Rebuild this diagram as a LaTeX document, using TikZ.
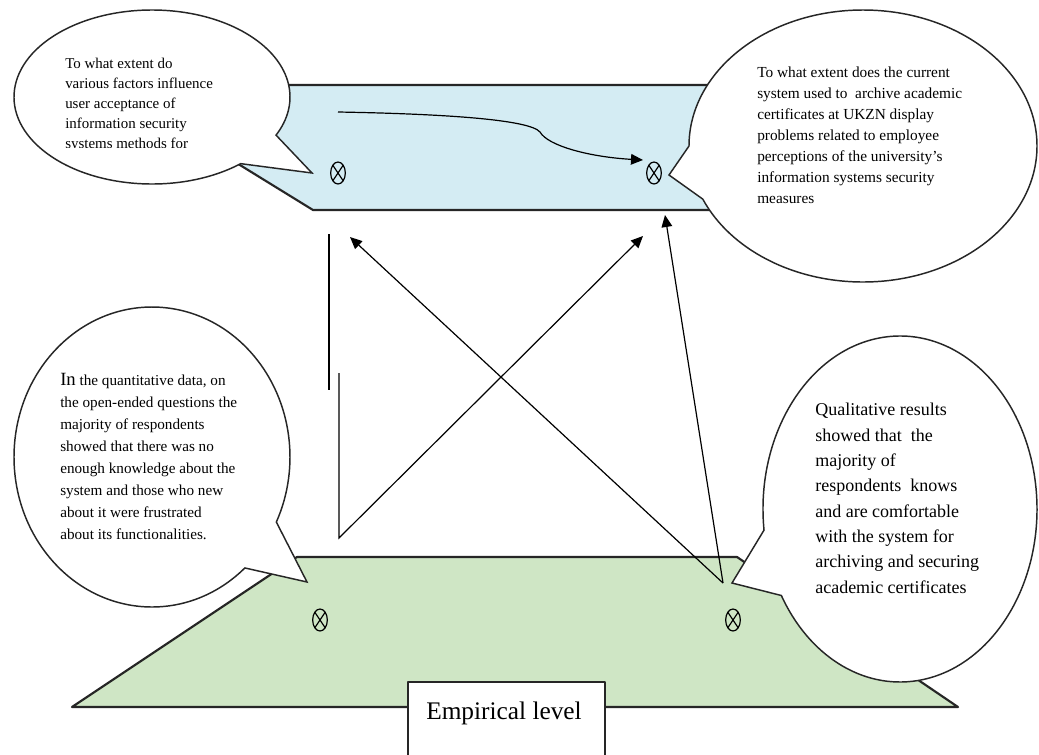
\documentclass[tikz,border=0pt]{standalone}
\usepackage{fontspec}
\setmainfont{Liberation Serif}
\usetikzlibrary{arrows.meta,shapes.geometric}
\definecolor{upperfill}{RGB}{212,236,243}
\definecolor{lowerfill}{RGB}{207,230,197}
\tikzset{
  plane/.style={draw=black!85,line width=1.6pt,line join=round},
  bubble/.style={draw=black!85,fill=white,line width=1.1pt},
  link/.style={line width=0.9pt,-{Triangle[length=9pt,width=8pt]}},
  xmark/.style={ellipse,draw,line width=0.9pt,minimum width=11pt,minimum height=16.5pt,inner sep=0pt,
    path picture={\draw[line width=0.9pt]
      (path picture bounding box.north west)--(path picture bounding box.south east)
      (path picture bounding box.north east)--(path picture bounding box.south west);}},
  talk/.style={anchor=north west,align=left,inner sep=0pt}
}
\begin{document}
\begin{tikzpicture}[x=0.75pt,y=-0.75pt]
\useasboundingbox (0,0) rectangle (1039,754);
\fill[white] (0,0) rectangle (1039,754);
\draw[plane,fill=upperfill] (110,85)--(760,85)--(790,210)--(313,210)--cycle;
\draw[plane,fill=lowerfill] (297,557)--(737,557)--(958,707)--(72,707)--cycle;
\draw[plane,fill=white] (408,682)--(408,800)--(605,800)--(605,682)--cycle;
\node[font=\fontsize{19}{22}\selectfont] (emp) at (504,713) {Empirical level};
\node[xmark] (xa) at (338,173) {};
\node[xmark] (xb) at (654,173) {};
\node[xmark] (xc) at (320,620) {};
\node[xmark] (xd) at (733,620) {};
\coordinate (flowA) at (338,112);
\coordinate (flowB) at (643,160);
\coordinate (qnTop) at (339,373);
\coordinate (qnFoot) at (339,538);
\coordinate (qlFoot) at (723,583);
\coordinate (upL) at (350,237);
\coordinate (upR) at (643,236);
\coordinate (upRR) at (665,215);
\draw[link] (flowA) .. controls (450,114) and (530,120) .. (540,132)
  .. controls (548,146) and (590,157) .. (flowB);
\draw[line width=0.9pt] (329,234)--(329,390);
\draw[link] (qnTop)--(qnFoot)--(upR);
\draw[link] (qlFoot)--(upL);
\draw[link] (qlFoot)--(upRR);
\draw[bubble] (152,97) ++(50:138 and 87) arc[start angle=50,end angle=386,x radius=138,y radius=87] -- (312,173) -- cycle;
\draw[bubble] (863,146) ++(180:174 and 136) arc[start angle=180,end angle=517,x radius=174,y radius=136] -- (669,175) -- cycle;
\draw[bubble] (152,457) ++(47.7:138 and 150) arc[start angle=47.7,end angle=385.7,x radius=138,y radius=150] -- (307,582) -- cycle;
\draw[bubble] (900,509) ++(173:137 and 173) arc[start angle=173,end angle=510,x radius=137,y radius=173] -- (732,583) -- cycle;
\begin{scope}
\clip (0,0) rectangle (300,147);
\node[talk,font=\fontsize{11.2}{15}\selectfont] (qa) at (65,58) {To what extent do\\various factors influence\\user acceptance of\\information security\\systems methods for};
\end{scope}
\node[talk,font=\fontsize{11.5}{15.75}\selectfont] (qb) at (757,67) {To what extent does the current\\system used to\ \ archive academic\\certificates at UKZN display\\problems related to employee\\perceptions of the university's\\information systems security\\measures};
\node[talk,font=\fontsize{11.4}{16.5}\selectfont] (qc) at (60,373) {{\fontsize{14}{16.5}\selectfont In} the quantitative data, on\\the open-ended questions the\\majority of respondents\\showed that there was no\\enough knowledge about the\\system and those who new\\about it were frustrated\\about its functionalities.};
\node[talk,font=\fontsize{13.5}{19}\selectfont] (qd) at (815,403) {Qualitative results\\showed that\ \ the\\majority of\\respondents\ \ knows\\and are comfortable\\with the system for\\archiving and securing\\academic certificates};
\end{tikzpicture}
\end{document}
